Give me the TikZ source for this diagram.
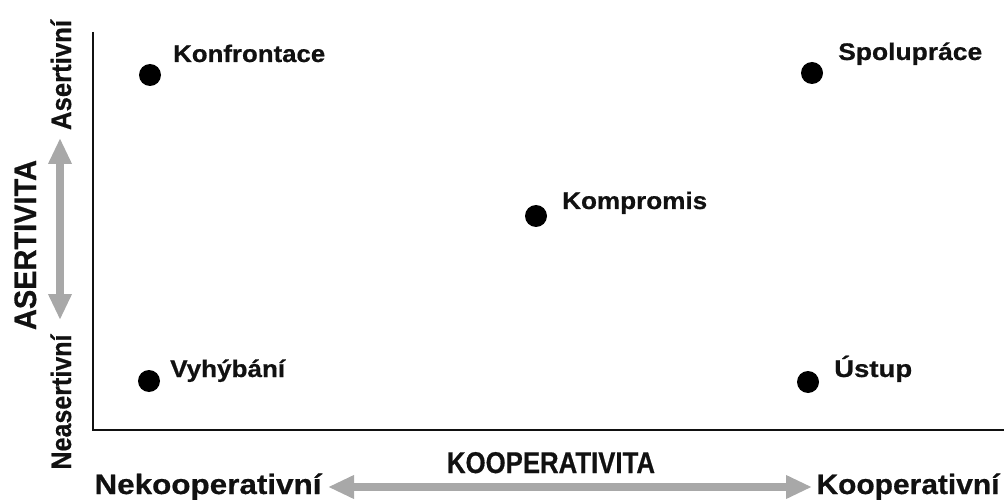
\documentclass[tikz,border=0pt]{standalone}
\usepackage{fontspec}
\setmainfont{Liberation Sans}[BoldFeatures={FakeBold=0.6}]
\usepackage{graphicx}
\usetikzlibrary{arrows.meta}
\newcommand\fitw[2]{\resizebox{#1pt}{\height}{#2}}
\definecolor{arrowgray}{HTML}{A8A8A8}
\definecolor{ink}{HTML}{111111}
\tikzset{
  lbl/.style={inner sep=0pt, anchor=base west, text=ink, font=\fontsize{24}{28}\selectfont\bfseries},
  axlbl/.style={inner sep=0pt, anchor=base, text=ink, font=\fontsize{28}{32}\selectfont\bfseries},
  dot/.style={circle, fill=black, minimum size=22pt, inner sep=0pt},
  bigarrow/.style={arrowgray, line width=8pt, {Triangle[width=22pt,length=26pt]}-{Triangle[width=22pt,length=26pt]}},
  axisline/.style={line width=1.6pt, ink}
}
\begin{document}
\begin{tikzpicture}[x=1pt,y=-1pt]
\useasboundingbox (0,0) rectangle (1005,500);
% axes
\coordinate (top) at (93,32);
\coordinate (origin) at (93,430);
\coordinate (right) at (1004,430);
\draw[axisline] (top) -- (origin) -- (right);
% dots
\node[dot] (d1) at (150,75) {};
\node[dot] (d2) at (812,73) {};
\node[dot] (d3) at (536,216) {};
\node[dot] (d4) at (149,381) {};
\node[dot] (d5) at (808,382) {};
% labels
\node[lbl] (l1) at (173,62) {\fitw{152}{Konfrontace}};
\node[lbl] (l2) at (838,60) {\fitw{144}{Spolupráce}};
\node[lbl] (l3) at (562,209) {\fitw{145}{Kompromis}};
\node[lbl] (l4) at (170,377) {\fitw{115}{Vyhýbání}};
\node[lbl] (l5) at (834,377) {\fitw{78}{Ústup}};
% horizontal axis labels
\node[axlbl] (nk) at (208,494) {\fitw{227}{Nekooperativní}};
\node[axlbl, font=\fontsize{30}{34}\selectfont\bfseries] (kv) at (551,473) {\fitw{208}{KOOPERATIVITA}};
\node[axlbl] (ko) at (908,494) {\fitw{183}{Kooperativní}};
% vertical axis labels
\node[axlbl, rotate=90] (as) at (71,75) {\fitw{110}{Asertivní}};
\node[axlbl, rotate=90, font=\fontsize{31}{34}\selectfont\bfseries] (av) at (36,245) {\fitw{170}{ASERTIVITA}};
\node[axlbl, rotate=90] (na) at (71,402) {\fitw{135}{Neasertivní}};
% arrows
\coordinate (ha) at (328,487);
\coordinate (hb) at (812,487);
\draw[bigarrow] (ha) -- (hb);
\coordinate (va) at (60,138);
\coordinate (vb) at (60,320);
\draw[bigarrow] (va) -- (vb);
\end{tikzpicture}
\end{document}
